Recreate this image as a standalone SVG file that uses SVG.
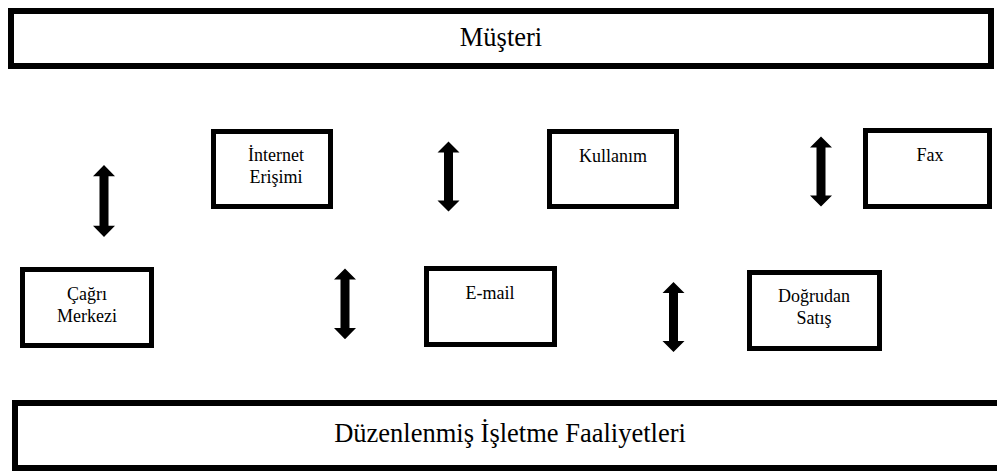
<svg xmlns="http://www.w3.org/2000/svg" xmlns:xlink="http://www.w3.org/1999/xlink" width="997" height="474" viewBox="0 0 997 474">
<style>
.box{fill:#fff;stroke:#000;stroke-width:5}
.big{fill:#fff;stroke:#000;stroke-width:6}
text{font-family:'Liberation Serif','DejaVu Serif',serif;fill:#000;text-anchor:middle}
.t{font-size:18px}
.tb{font-size:26.5px}
.arr{fill:#000}
</style>
<defs>
<path id="dbl" d="M0,0 L11,11 L4.5,11 L4.5,59 L11,59 L0,70 L-11,59 L-4.5,59 L-4.5,11 L-11,11 Z"/>
</defs>
<rect width="997" height="474" fill="#fff"/>
<g id="musteri">
<rect class="big" x="11" y="11" width="980" height="55"/>
<text class="tb" x="501" y="46" font-family="Liberation Serif, serif">Müşteri</text>
</g>
<g id="internet">
<rect class="box" x="213.5" y="131.5" width="117" height="75"/>
<text class="t" x="276" y="160.5" font-family="Liberation Serif, serif">İnternet</text>
<text class="t" x="276" y="183" font-family="Liberation Serif, serif">Erişimi</text>
</g>
<g id="kullanim">
<rect class="box" x="549.5" y="131.5" width="127" height="75"/>
<text class="t" x="613" y="161.5" font-family="Liberation Serif, serif">Kullanım</text>
</g>
<g id="fax">
<rect class="box" x="865.5" y="130.5" width="124" height="76"/>
<text class="t" x="930" y="160.5" font-family="Liberation Serif, serif">Fax</text>
</g>
<g id="cagri">
<rect class="box" x="22.5" y="269.5" width="129" height="76"/>
<text class="t" x="87" y="300" font-family="Liberation Serif, serif">Çağrı</text>
<text class="t" x="87" y="321.7" font-family="Liberation Serif, serif">Merkezi</text>
</g>
<g id="email">
<rect class="box" x="426.5" y="268.5" width="128" height="76"/>
<text class="t" x="490" y="299.3" font-family="Liberation Serif, serif">E-mail</text>
</g>
<g id="dogrudan">
<rect class="box" x="749.5" y="272.5" width="130" height="76"/>
<text class="t" x="814" y="301.7" font-family="Liberation Serif, serif">Doğrudan</text>
<text class="t" x="814" y="324" font-family="Liberation Serif, serif">Satış</text>
</g>
<g id="duzenlenmis">
<rect class="big" x="15" y="403" width="990" height="65"/>
<text class="tb" x="510" y="442" font-family="Liberation Serif, serif">Düzenlenmiş İşletme Faaliyetleri</text>
</g>
<g id="connectors" class="arr">
<use xlink:href="#dbl" transform="translate(104,165) scale(1,1.03)"/>
<use xlink:href="#dbl" transform="translate(448.5,141.5)"/>
<use xlink:href="#dbl" transform="translate(821,136.5)"/>
<use xlink:href="#dbl" transform="translate(345,268.5) scale(1,1.01)"/>
<use xlink:href="#dbl" transform="translate(673.5,282)"/>
</g>
</svg>
